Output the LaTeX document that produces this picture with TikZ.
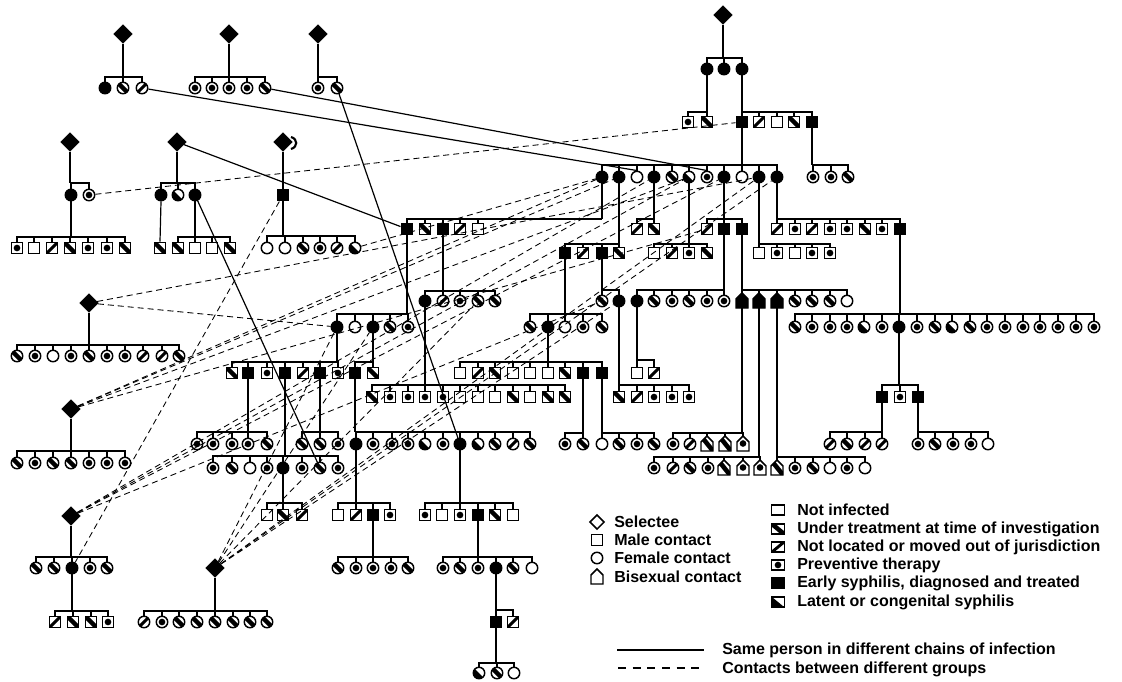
\documentclass[tikz,border=0pt]{standalone}
\usepackage{fontspec}
\setmainfont{Liberation Sans}
\usetikzlibrary{shapes.geometric}
\tikzset{
  sym/.style={draw=black, line width=1.1pt, fill=white, inner sep=0pt},
  cir/.style={sym, circle, minimum size=8.6pt},
  sqr/.style={sym, rectangle, minimum size=8.6pt},
  stN/.style={},
  stE/.style={fill=black},
  stU/.style={path picture={\draw[black, line width=3.4pt] (path picture bounding box.north west) -- (path picture bounding box.south east);}},
  stL/.style={path picture={\draw[black, line width=2.2pt] (path picture bounding box.south west) -- (path picture bounding box.north east);}},
  stP/.style={path picture={\fill[black] (path picture bounding box.center) circle (2.5pt);}},
  stT/.style={path picture={\fill[black] (path picture bounding box.north west) -- (path picture bounding box.south west) -- (path picture bounding box.south east) -- cycle;}},
  dia/.style={diamond, fill=black, draw=black, line width=0.5pt, inner sep=0pt, minimum width=14pt, minimum height=14pt},
  ln/.style={line width=0.9pt},
  dl/.style={line width=0.65pt, dash pattern=on 4.5pt off 3pt},
  lt/.style={anchor=west, inner sep=0pt, font=\fontsize{12}{14}\selectfont\bfseries},
  lbox/.style={sym, rectangle, minimum width=9.4pt, minimum height=7.8pt}
}
\newcommand\crow[3]{\foreach \xx/\ss in {#3} {\node[cir,st\ss] (#1\xx) at (\xx,#2) {};}}
\newcommand\srow[3]{\foreach \xx/\ss in {#3} {\node[sqr,st\ss] (#1\xx) at (\xx,#2) {};}}
\newcommand\brow[3]{\foreach \xx/\ss in {#3} {\node[inner sep=0pt,minimum width=9pt,minimum height=10.5pt] (#1\xx) at (\xx,#2) {};
  \draw[sym,st\ss] (\xx-6,#2+7) -- (\xx-6,#2-2) -- (\xx,#2-8) -- (\xx+6,#2-2) -- (\xx+6,#2+7) -- cycle;}}
\newcommand\kinfam[3]{\coordinate (brr) at (0,#2);
  \draw[ln] (#1.south) -- (#1.south |- brr);
  \foreach \cc in {#3} {\draw[ln] (\cc.north) -- (\cc.north |- brr) -- (#1.south |- brr);}}
\begin{document}
\begin{tikzpicture}[x=0.75pt,y=-0.75pt]
\useasboundingbox (0,0) rectangle (1122,682);
% diamonds
\node[dia] (dD) at (723,15) {};
\node[dia] (dA1) at (123,34) {};
\node[dia] (dA2) at (229,34) {};
\node[dia] (dA3) at (318,34) {};
\node[dia] (dB1) at (70,142) {};
\node[dia] (dB2) at (177,142) {};
\node[dia] (dB3) at (283,142) {};
\node[dia] (dC1) at (89,303) {};
\node[dia] (dC2) at (71,409) {};
\node[dia] (dC3) at (71,516) {};
\node[dia] (dC4) at (215,568) {};
\draw[line width=1.6pt] (291,137) .. controls (298,139) and (298,147) .. (291,149);
% rows
\crow{k}{69}{707/E,724/E,742/E}
\crow{p}{88}{105/E,123/U,142/L,195/P,212/P,229/P,247/P,265/U,318/P,337/U}
\srow{q}{122}{688/P,707/U,742/E,759/L,777/N,794/U,812/E}
\crow{t}{177}{602/E,619/E,637/N,654/E,672/U,689/T,707/P,724/E,742/N,759/E,777/E,813/P,831/P,848/U}
\crow{u}{195}{71/E,89/P,161/E,178/T,195/E}
\srow{u}{195}{283/E}
\srow{v}{229}{407/E,425/U,443/E,460/L,478/N,637/L,654/U,707/L,724/E,742/E,777/L,795/P,812/L,830/P,847/P,865/U,882/P,900/E}
\srow{w}{248}{17/P,34/N,52/L,70/U,88/P,107/P,125/U,160/U,178/U,195/N,212/N,230/U}
\crow{w}{248}{267/N,285/N,303/U,320/P,337/L,355/T}
\srow{y}{253}{565/E,583/L,602/E,619/U,654/N,672/L,689/P,707/U,759/N,777/P,795/N,812/P,830/P}
\crow{z}{301}{425/E,443/L,460/P,478/U,495/U,602/U,619/E,637/E,654/U,672/P,689/U,707/P,724/P,795/U,812/U,830/U,847/N}
\brow{z}{301}{742/E,759/E,777/E}
\crow{g}{327}{337/E,355/N,373/E,390/U,408/P,530/U,548/E,565/N,583/P,602/U,795/U,812/P,830/P,847/P,864/T,882/P,899/E,917/P,935/U,952/T,970/U,987/P,1005/P,1023/P,1040/P,1058/P,1076/P,1094/P}
\crow{h}{356}{17/U,35/P,53/N,71/P,89/U,107/P,125/P,143/L,162/L,179/U}
\srow{i}{373}{232/U,248/E,267/P,285/E,303/L,320/E,338/P,355/E,373/U,460/N,478/L,495/U,513/N,530/N,548/N,565/U,583/E,602/E,637/N,654/L}
\srow{j}{397}{372/U,390/P,408/P,425/P,443/P,460/N,478/N,495/N,513/U,530/N,548/U,565/U,619/U,637/L,654/P,672/P,689/P,882/E,900/P,918/E}
\crow{m}{444}{197/P,213/P,232/P,248/P,267/U,302/U,320/U,338/P,356/E,373/P,392/P,408/P,425/T,443/P,460/E,478/T,495/U,513/L,530/U,565/P,583/U,602/N,619/U,637/P,654/U,673/P,690/L,830/L,847/U,865/L,882/L,918/P,935/U,953/P,971/P,988/N}
\brow{m}{444}{707/U,725/U,743/P}
\crow{e}{463}{17/U,35/P,53/U,71/U,89/P,107/P,125/P}
\crow{f}{468}{213/P,232/U,250/N,267/P,283/E,302/P,320/U,338/P,654/P,673/L,690/U,708/P,795/P,813/U,830/N,847/P,865/N}
\brow{f}{468}{724/U,743/P,760/P,777/U}
\srow{o}{515}{267/N,283/U,302/L,338/N,356/L,373/E,390/P,425/P,442/N,460/P,478/E,495/U,513/N}
\crow{l}{568}{36/U,54/U,72/E,90/P,107/U,338/U,356/P,373/P,391/P,408/U,443/P,460/U,478/P,496/E,513/U,532/N}
\srow{s}{622}{55/L,73/U,91/U,108/P,496/E,513/L}
\crow{s}{622}{144/L,162/P,179/U,197/U,215/U,233/U,250/U,267/U}
\crow{bb}{673}{479/T,497/U,514/N}
% families
\kinfam{dD}{58}{k707,k724,k742}
\kinfam{dA1}{77}{p105,p123,p142}
\kinfam{dA2}{77}{p195,p212,p229,p247,p265}
\kinfam{dA3}{77}{p318,p337}
\kinfam{k707}{112}{q688,q707}
\kinfam{k742}{112}{q742,q759,q777,q794,q812}
\kinfam{q742}{165}{t602,t619,t637,t654,t672,t689,t707,t724,t742,t759,t777}
\kinfam{q812}{165}{t813,t831,t848}
\kinfam{dB1}{183}{u71,u89}
\kinfam{dB2}{183}{u161,u178,u195}
\draw[ln] (dB3.south) -- (u283.north);
\kinfam{u71}{237}{w17,w34,w52,w70,w88,w107,w125}
\draw[ln] (u161.south) -- (w160.north);
\kinfam{u195}{237}{w178,w195,w212,w230}
\kinfam{u283}{236}{w267,w285,w303,w320,w337,w355}
\kinfam{t602}{219}{v407,v425,v443,v460,v478}
\kinfam{t654}{219}{v637,v654}
\kinfam{t724}{219}{v707,v724,v742}
\kinfam{t777}{219}{v777,v795,v812,v830,v847,v865,v882,v900}
\kinfam{t619}{244}{y565,y583,y602,y619}
\kinfam{t689}{244}{y654,y672,y689,y707}
\kinfam{t759}{244}{y759,y777,y795,y812,y830}
\kinfam{v443}{291}{z425,z443,z460,z478,z495}
\kinfam{v407}{314}{g337,g355,g373,g390,g408}
\kinfam{y602}{290}{z602,z619}
\kinfam{v724}{290}{z637,z654,z672,z689,z707,z724}
\kinfam{v742}{290}{z742,z759,z777,z795,z812,z830,z847}
\kinfam{y565}{314}{g530,g548,g565,g583,g602}
\kinfam{v900}{314}{g795,g812,g830,g847,g864,g882,g899,g917,g935,g952,g970,g987,g1005,g1023,g1040,g1058,g1076,g1094}
\kinfam{dC1}{345}{h17,h35,h53,h71,h89,h107,h125,h143,h162,h179}
\kinfam{g548}{362}{i460,i478,i495,i513,i530,i548,i565,i583,i602}
\kinfam{z637}{360}{i637,i654}
\kinfam{g337}{362}{i232,i248,i267,i285,i303,i320,i338}
\kinfam{g373}{362}{i355,i373}
\kinfam{z425}{385}{j372,j390,j408,j425,j443,j460,j478,j495,j513,j530,j548,j565}
\kinfam{z619}{385}{j619,j637,j654,j672,j689}
\kinfam{g899}{385}{j882,j900,j918}
\kinfam{i248}{432}{m197,m213,m232,m248,m267}
\kinfam{i320}{432}{m302,m320,m338}
\kinfam{i355}{432}{m356,m373,m392,m408,m425,m443,m460,m478,m495,m513,m530}
\kinfam{i583}{433}{m565,m583}
\kinfam{i602}{433}{m602,m619,m637,m654}
\kinfam{z742}{433}{m673,m690,m707,m725,m743}
\kinfam{j882}{432}{m830,m847,m865,m882}
\kinfam{j918}{432}{m918,m935,m953,m971,m988}
\kinfam{dC2}{451}{e17,e35,e53,e71,e89,e107,e125}
\kinfam{i285}{456}{f213,f232,f250,f267,f283,f302,f320,f338}
\kinfam{z759}{457}{f654,f673,f690,f708,f724,f743,f760}
\kinfam{z777}{457}{f777,f795,f813,f830,f847,f865}
\kinfam{f283}{503}{o267,o283,o302}
\kinfam{m356}{503}{o338,o356,o373,o390}
\kinfam{m460}{503}{o425,o442,o460,o478,o495,o513}
\kinfam{dC3}{557}{l36,l54,l72,l90,l107}
\kinfam{o373}{557}{l338,l356,l373,l391,l408}
\kinfam{o478}{557}{l443,l460,l478,l496,l513,l532}
\kinfam{l72}{611}{s55,s73,s91,s108}
\kinfam{dC4}{611}{s144,s162,s179,s197,s215,s233,s250,s267}
\kinfam{l496}{610}{s496,s513}
\kinfam{s496}{663}{bb479,bb497,bb514}
% same person in different chains
\draw[ln] (p142) -- (t637.north);
\draw[ln] (p265) -- (t707.north);
\draw[ln] (p337) -- (m460);
\draw[ln] (dB2) -- (v407);
\draw[ln] (u195) -- (f320);
% contacts between different groups
\draw[dl] (u89) -- (q742);
\draw[dl] (dC1) -- (t759);
\draw[dl] (dC1) -- (g337);
\draw[dl] (dC2) -- (t602);
\draw[dl] (dC2) -- (t619);
\draw[dl] (dC2) -- (v707);
\draw[dl] (dC2) -- (t689);
\draw[dl] (dC3) -- (t654);
\draw[dl] (dC3) -- (t689);
\draw[dl] (dC3) -- (t724);
\draw[dl] (dC3) -- (z602);
\draw[dl] (u283) -- (l72);
\draw[dl] (dC4) -- (g337);
\draw[dl] (dC4) -- (g373);
\draw[dl] (dC4) -- (z478);
\draw[dl] (dC4) -- (z619);
\draw[dl] (dC4) -- (t759);
\draw[dl] (dC4) -- (t777);
\draw[dl] (w355) -- (t602);
% legend, left
\node[diamond, draw, line width=1.1pt, inner sep=0pt, minimum size=11pt] (lg1) at (597,522) {};
\node[sqr] (lg2) at (597,540) {};
\node[cir] (lg3) at (597,558) {};
\brow{lg}{577}{597/N}
\node[lt] (lt1) at (614,522) {Selectee};
\node[lt] (lt2) at (614,540) {Male contact};
\node[lt] (lt3) at (614,558) {Female contact};
\node[lt] (lt4) at (614,577) {Bisexual contact};
% legend, right
\node[lbox,stN] (lb1) at (778,510) {};
\node[lbox,stU] (lb2) at (778,529) {};
\node[lbox,stL] (lb3) at (778,547) {};
\node[lbox,stP] (lb4) at (778,565) {};
\node[lbox,stE] (lb5) at (778,583) {};
\node[lbox,stT] (lb6) at (778,602) {};
\node[lt] (lr1) at (797,510) {Not infected};
\node[lt] (lr2) at (797,529) {Under treatment at time of investigation};
\node[lt] (lr3) at (797,547) {Not located or moved out of jurisdiction};
\node[lt] (lr4) at (797,565) {Preventive therapy};
\node[lt] (lr5) at (797,583) {Early syphilis, diagnosed and treated};
\node[lt] (lr6) at (797,602) {Latent or congenital syphilis};
\coordinate (ls1) at (617,650);
\coordinate (ls2) at (704,650);
\coordinate (ld1) at (618,668);
\coordinate (ld2) at (705,668);
\draw[line width=0.8pt] (ls1) -- (ls2);
\draw[line width=0.8pt, dash pattern=on 6pt off 5pt] (ld1) -- (ld2);
\node[lt] (lm1) at (722,650) {Same person in different chains of infection};
\node[lt] (lm2) at (722,669) {Contacts between different groups};
\end{tikzpicture}
\end{document}
